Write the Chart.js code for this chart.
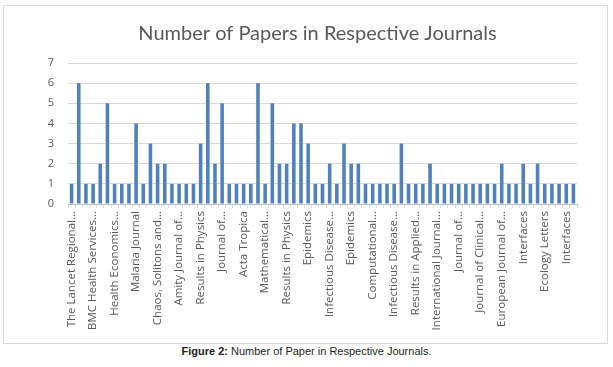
<!DOCTYPE html>
<html>
<head>
<meta charset="utf-8">
<script src="https://cdn.jsdelivr.net/npm/chart.js@4.4.0/dist/chart.umd.min.js"></script>
<style>
    body { margin: 0; background: #fff; width: 613px; height: 367px; overflow: hidden; }
    #chart-box { position: absolute; left: 3px; top: 5px; width: 603px; height: 337px; border: 1px solid #d9d9d9; }
    #caption { position: absolute; left: 0; top: 345px; width: 613px; text-align: center;
        font-family: "Liberation Sans", Arial, sans-serif; font-size: 11px; color: #231f20; }
</style>
</head>
<body>
<div id="chart-box"><canvas id="journal-chart"></canvas></div>
<div id="caption"><b>Figure 2:</b> Number of Paper in Respective Journals.</div>
<script>
// papers per journal, in the order of the original chart
const paperCounts = [
    1, 6, 1, 1, 2, 5, 1, 1, 1, 4, 1, 3, 2, 2, 1, 1, 1, 1, 3, 6,
    2, 5, 1, 1, 1, 1, 6, 1, 5, 2, 2, 4, 4, 3, 1, 1, 2, 1, 3, 2,
    2, 1, 1, 1, 1, 1, 3, 1, 1, 1, 2, 1, 1, 1, 1, 1, 1, 1, 1, 1,
    2, 1, 1, 2, 1, 2, 1, 1, 1, 1, 1
];

// only every third journal name is printed on the axis
const shownLabels = [
    'The Lancet Regional...', 'BMC Health Services...', 'Health Economics...',
    'Malaria Journal', 'Chaos, Solitons and...', 'Amity Journal of...',
    'Results in Physics', 'Journal of...', 'Acta Tropica', 'Mathematical...',
    'Results in Physics', 'Epidemics', 'Infectious Disease...', 'Epidemics',
    'Computational...', 'Infectious Disease...', 'Results in Applied...',
    'International Journal...', 'Journal of...', 'Journal of Clinical...',
    'European Journal of...', 'Interfaces', 'Ecology Letters', 'Interfaces'
];

const yTicks = [0, 1, 2, 3, 4, 5, 6, 7];

const journalNames = paperCounts.map((_, i) => (i % 3 === 0 ? shownLabels[i / 3] : ''));

const ctx = document.getElementById('journal-chart');
const box = document.getElementById('chart-box');
ctx.width = box.clientWidth;
ctx.height = box.clientHeight;

// the original title sits a bit right of the canvas centre
const TitleShift = {
    id: 'titleShift',
    afterLayout(chart, _args, opts) {
        const t = chart.titleBlock;
        if (!t) return;
        t.left += opts.shift || 0;
        t.right += opts.shift || 0;
    }
};

new Chart(ctx, {
    type: 'bar',
    data: {
        labels: journalNames,
        datasets: [{
            label: 'Papers',
            data: paperCounts,
            backgroundColor: '#4f81bd',
            categoryPercentage: 1,
            barPercentage: 0.5
        }]
    },
    plugins: [TitleShift],
    options: {
        responsive: false,
        animation: false,
        layout: {
            padding: { left: 0, right: 30, top: 0, bottom: 0 }
        },
        plugins: {
            legend: { display: false },
            tooltip: { enabled: false },
            titleShift: { shift: 27 },
            title: {
                display: true,
                text: 'Number of Papers in Respective Journals',
                color: '#595959',
                font: { family: 'Lato, "Open Sans", sans-serif', size: 20, weight: 'normal' },
                padding: { top: 16, bottom: 17 }
            }
        },
        scales: {
            x: {
                grid: {
                    display: true,
                    drawOnChartArea: false,
                    tickLength: 4,
                    color: '#d9d9d9'
                },
                border: { color: '#bfbfbf' },
                ticks: {
                    autoSkip: false,
                    maxRotation: 90,
                    minRotation: 90,
                    padding: 3,
                    color: '#595959',
                    font: { family: '"Open Sans", sans-serif', size: 11.5 }
                },
                afterFit: function (scale) {
                    scale.height = 139;
                }
            },
            y: {
                min: 0,
                max: 7,
                afterBuildTicks: function (scale) {
                    scale.ticks = yTicks.map(v => ({ value: v }));
                },
                grid: {
                    color: '#d9d9d9',
                    drawTicks: false
                },
                border: { display: false },
                ticks: {
                    padding: 14,
                    color: '#595959',
                    font: { family: '"Open Sans", sans-serif', size: 11 }
                },
                afterFit: function (scale) {
                    scale.width = 64;
                }
            }
        }
    }
});
</script>
</body>
</html>
